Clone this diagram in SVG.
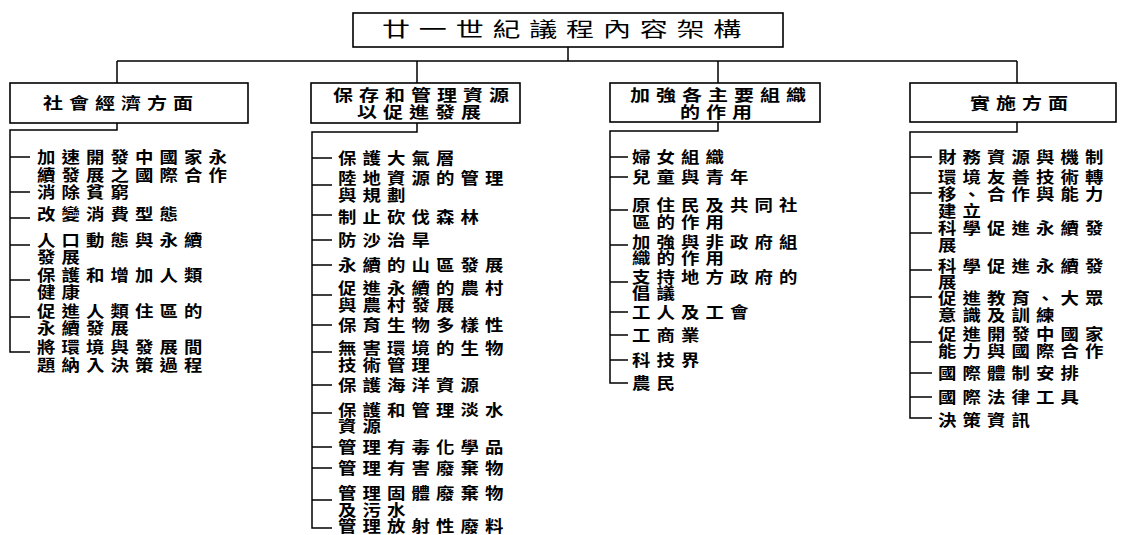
<svg xmlns="http://www.w3.org/2000/svg" width="1121" height="535" viewBox="0 0 1121 535">
<style>
.box{fill:#fff;stroke:#000;stroke-width:1.6}
.ln{fill:none;stroke:#000;stroke-width:1.5}
.t{font-family:"Noto Sans CJK TC","Noto Sans CJK SC",sans-serif;fill:#000}
.ttl{font-size:20px;letter-spacing:6.3px}
.hd{font-size:16px;letter-spacing:4.8px;font-weight:bold}
.it{font-size:16px;letter-spacing:5.3px;font-weight:bold}
</style>
<rect width="1121" height="535" fill="#fff"/>
<g id="connectors">
<path class="ln" d="M568,47V61M117,61H1017M117,61V83M417,61V83M718,61V83M1017,61V83"/>
<path class="ln" d="M117,123V130H10V352H30M10,157H30M10,192H30M10,218H30M10,245H30M10,280H30M10,317H30"/>
<path class="ln" d="M417,123V132H312V528H332M312,158H332M312,185H332M312,215H332M312,240H332M312,265H332M312,295H332M312,325H332M312,352H332M312,385H332M312,413H332M312,447H332M312,468H332M312,500H332"/>
<path class="ln" d="M718,122V131H610V383H628M610,157H628M610,177H628M610,210H628M610,245H628M610,282H628M610,312H628M610,335H628M610,360H628"/>
<path class="ln" d="M1017,122V132H910V418H932M910,157H932M910,193H932M910,233H932M910,270H932M910,297H932M910,342H932M910,373H932M910,397H932"/>
</g>
<g id="title"><rect class="box" x="353" y="13" width="430" height="34"/><text class="t ttl" transform="translate(382,37) scale(1.4,1)">廿一世紀議程內容架構</text></g>
<g id="h1"><rect class="box" x="10" y="83" width="238" height="40"/><text class="t hd" transform="translate(43,109) scale(1.25,1)">社會經濟方面</text></g>
<g id="h2"><rect class="box" x="311" y="83" width="209" height="40"/><text class="t hd" transform="translate(333,101) scale(1.25,1)">保存和管理資源</text><text class="t hd" transform="translate(357,118) scale(1.25,1)">以促進發展</text></g>
<g id="h3"><rect class="box" x="610" y="83" width="210" height="39"/><text class="t hd" transform="translate(630,101) scale(1.25,1)">加強各主要組織</text><text class="t hd" transform="translate(680,118) scale(1.25,1)">的作用</text></g>
<g id="h4"><rect class="box" x="910" y="83" width="206" height="39"/><text class="t hd" transform="translate(970,109) scale(1.25,1)">實施方面</text></g>
<g id="c1" class="t it" transform="translate(37,0) scale(1.15,1)">
<g id="c1i1"><text x="0" y="163">加速開發中國家永<tspan x="0" dy="18">續發展之國際合作</tspan></text></g>
<g id="c1i2"><text x="0" y="198">消除貧窮</text></g>
<g id="c1i3"><text x="0" y="220">改變消費型態</text></g>
<g id="c1i4"><text x="0" y="246">人口動態與永續<tspan x="0" dy="17">發展</tspan></text></g>
<g id="c1i5"><text x="0" y="281">保護和增加人類<tspan x="0" dy="17">健康</tspan></text></g>
<g id="c1i6"><text x="0" y="317">促進人類住區的<tspan x="0" dy="17">永續發展</tspan></text></g>
<g id="c1i7"><text x="0" y="353">將環境與發展間<tspan x="0" dy="18">題納入決策過程</tspan></text></g>
</g>
<g id="c2" class="t it" transform="translate(338,0) scale(1.15,1)">
<g id="c2i1"><text x="0" y="164">保護大氣層</text></g>
<g id="c2i2"><text x="0" y="184">陸地資源的管理<tspan x="0" dy="17">與規劃</tspan></text></g>
<g id="c2i3"><text x="0" y="223">制止砍伐森林</text></g>
<g id="c2i4"><text x="0" y="246">防沙治旱</text></g>
<g id="c2i5"><text x="0" y="271">永續的山區發展</text></g>
<g id="c2i6"><text x="0" y="294">促進永續的農村<tspan x="0" dy="17">與農村發展</tspan></text></g>
<g id="c2i7"><text x="0" y="331">保育生物多樣性</text></g>
<g id="c2i8"><text x="0" y="354">無害環境的生物<tspan x="0" dy="17">技術管理</tspan></text></g>
<g id="c2i9"><text x="0" y="391">保護海洋資源</text></g>
<g id="c2i10"><text x="0" y="416">保護和管理淡水<tspan x="0" dy="16">資源</tspan></text></g>
<g id="c2i11"><text x="0" y="453">管理有毒化學品</text></g>
<g id="c2i12"><text x="0" y="474">管理有害廢棄物</text></g>
<g id="c2i13"><text x="0" y="499">管理固體廢棄物<tspan x="0" dy="17">及污水</tspan></text></g>
<g id="c2i14"><text x="0" y="532">管理放射性廢料</text></g>
</g>
<g id="c3" class="t it" transform="translate(632,0) scale(1.15,1)">
<g id="c3i1"><text x="0" y="163">婦女組織</text></g>
<g id="c3i2"><text x="0" y="183">兒童與青年</text></g>
<g id="c3i3"><text x="0" y="211">原住民及共同社<tspan x="0" dy="17">區的作用</tspan></text></g>
<g id="c3i4"><text x="0" y="248">加強與非政府組<tspan x="0" dy="16">織的作用</tspan></text></g>
<g id="c3i5"><text x="0" y="283">支持地方政府的<tspan x="0" dy="16">倡議</tspan></text></g>
<g id="c3i6"><text x="0" y="318">工人及工會</text></g>
<g id="c3i7"><text x="0" y="341">工商業</text></g>
<g id="c3i8"><text x="0" y="366">科技界</text></g>
<g id="c3i9"><text x="0" y="389">農民</text></g>
</g>
<g id="c4" class="t it" transform="translate(938,0) scale(1.15,1)">
<g id="c4i1"><text x="0" y="163">財務資源與機制</text></g>
<g id="c4i2"><text x="0" y="183">環境友善技術轉<tspan x="0" dy="17">移、合作與能力</tspan><tspan x="0" dy="17">建立</tspan></text></g>
<g id="c4i3"><text x="0" y="234">科學促進永續發<tspan x="0" dy="17">展</tspan></text></g>
<g id="c4i4"><text x="0" y="272">科學促進永續發<tspan x="0" dy="16">展</tspan></text></g>
<g id="c4i5"><text x="0" y="304">促進教育、大眾<tspan x="0" dy="17">意識及訓練</tspan></text></g>
<g id="c4i6"><text x="0" y="340">促進開發中國家<tspan x="0" dy="17">能力與國際合作</tspan></text></g>
<g id="c4i7"><text x="0" y="379">國際體制安排</text></g>
<g id="c4i8"><text x="0" y="403">國際法律工具</text></g>
<g id="c4i9"><text x="0" y="426">決策資訊</text></g>
</g>
</svg>
